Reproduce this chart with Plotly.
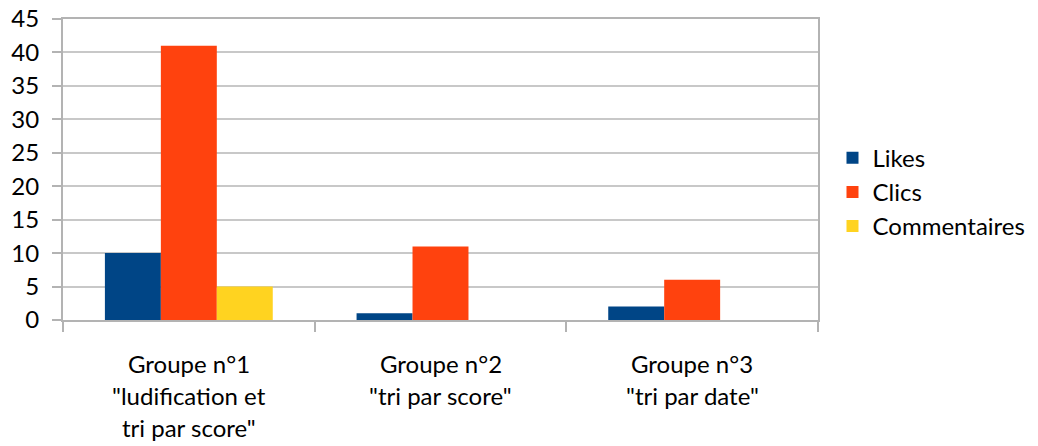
import plotly.graph_objects as go

categories = ["Groupe n°1", "Groupe n°2", "Groupe n°3"]
category_lines = [
    ["Groupe n°1", "\"ludification et", "tri par score\""],
    ["Groupe n°2", "\"tri par score\""],
    ["Groupe n°3", "\"tri par date\""],
]
likes = [10, 1, 2]
clics = [41, 11, 6]
commentaires = [5, 0, 0]

series = [
    ("Likes", likes, "#004586"),
    ("Clics", clics, "#ff420e"),
    ("Commentaires", commentaires, "#ffd320"),
]

FONT = "Lato"
FS = 24
fig = go.Figure()
for i, (name, vals, color) in enumerate(series):
    fig.add_trace(go.Bar(
        x=categories, y=vals, name=name, marker_color=color,
        marker_line_width=0, legendgroup=name,
    ))

annotations = []
for cat, lines in zip(categories, category_lines):
    for j, line in enumerate(lines):
        annotations.append(dict(
            x=cat, xref="x", y=0, yref="paper", yanchor="top",
            text=line, showarrow=False, yshift=-27 - 32 * j,
            font=dict(family=FONT, size=FS, color="#000000"),
        ))

fig.update_layout(
    width=1038, height=446,
    margin=dict(l=63, r=220, t=19, b=126, autoexpand=False),
    paper_bgcolor="white", plot_bgcolor="white",
    barmode="group", bargap=0.333, bargroupgap=0,
    font=dict(family=FONT, size=FS, color="#000000"),
    showlegend=True,
    legend=dict(
        x=1.0192, y=0.425, xanchor="left", yanchor="middle",
        font=dict(family=FONT, size=FS, color="#000000"),
        tracegroupgap=0, traceorder="normal",
        bgcolor="rgba(0,0,0,0)",
    ),
    annotations=annotations,
    xaxis=dict(
        type="category", showticklabels=False, automargin=False,
        tickson="boundaries", ticks="outside", ticklen=10,
        tickcolor="#b3b3b3", tickwidth=2,
        showline=True, linecolor="#b3b3b3", linewidth=2, mirror=True,
        showgrid=False, zeroline=False,
    ),
    yaxis=dict(
        range=[0, 45], dtick=5, tick0=0, automargin=False,
        ticks="outside", ticklen=9, tickcolor="#b3b3b3", tickwidth=2,
        showline=True, linecolor="#b3b3b3", linewidth=2, mirror=True,
        showgrid=True, gridcolor="#c8c8c8", gridwidth=2,
        zeroline=False, ticklabelstandoff=8, ticklabeloverflow="allow",
        tickfont=dict(family=FONT, size=FS, color="#000000"),
    ),
)

fig.write_html(
    "out.html",
    config={"displayModeBar": False},
    post_script="document.body.style.margin='0';document.body.style.padding='0';",
)
